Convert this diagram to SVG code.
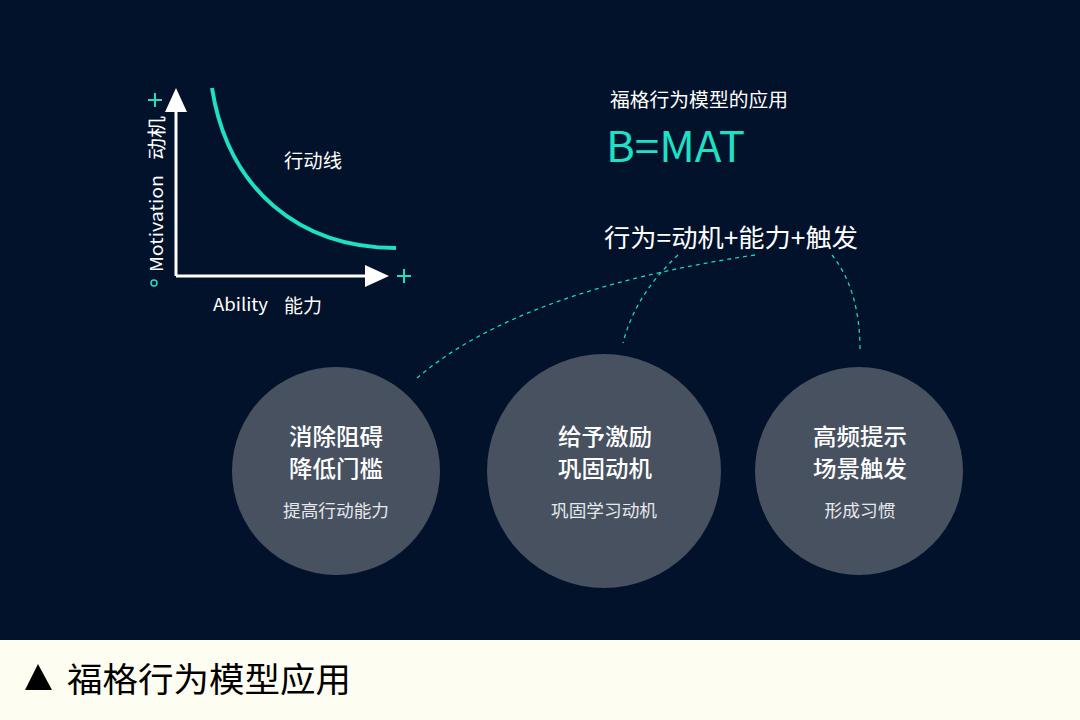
<svg xmlns="http://www.w3.org/2000/svg" width="1080" height="720" viewBox="0 0 1080 720">
<style>
text{font-family:"Noto Sans CJK SC","Noto Sans",sans-serif}
.w{fill:#ffffff}
.t1{font-size:23px;font-weight:500;fill:#ffffff;text-anchor:middle}
.t2{font-size:17px;fill:#e6e8ec;text-anchor:middle}
.c{fill:#475160}
.dash{fill:none;stroke:#19d6bd;stroke-width:1.3;stroke-dasharray:4 4}
.teal{fill:#1de0c4}
</style>
<rect width="1080" height="720" fill="#02122a"/>
<rect y="640" width="1080" height="80" fill="#fefdf2"/>
<g id="chart">
<line x1="176" y1="108" x2="176" y2="276" stroke="#fff" stroke-width="3"/>
<line x1="176" y1="276" x2="368" y2="276" stroke="#fff" stroke-width="3"/>
<polygon points="176,88 165,112 187,112" fill="#fff"/>
<polygon points="389,276 365,265 365,287" fill="#fff"/>
<path d="M212,88 C228,190 300,248 396,248" fill="none" stroke="#1de0c4" stroke-width="4"/>
<path d="M148,100 H162 M155,93 V107" stroke="#1de0c4" stroke-width="2"/>
<path d="M397,276 H411 M404,269 V283" stroke="#1de0c4" stroke-width="2"/>
<circle cx="154" cy="283" r="3" fill="none" stroke="#1de0c4" stroke-width="1.5"/>
<text class="w" font-size="17.5" transform="translate(163,272) rotate(-90)" textLength="97" lengthAdjust="spacingAndGlyphs">Motivation</text>
<text class="w" font-size="19" transform="translate(164,160) rotate(-90)" textLength="44" lengthAdjust="spacingAndGlyphs">动机</text>
<text class="w" font-size="19" x="284" y="168" textLength="58" lengthAdjust="spacingAndGlyphs">行动线</text>
<text class="w" font-size="17.5" x="213" y="311" textLength="55" lengthAdjust="spacingAndGlyphs">Ability</text>
<text class="w" font-size="19" x="284" y="313" textLength="38" lengthAdjust="spacingAndGlyphs">能力</text>
</g>
<g id="formula">
<text class="w" font-size="19" x="610" y="107" textLength="178" lengthAdjust="spacingAndGlyphs">福格行为模型的应用</text>
<text class="teal" font-size="42" x="606" y="162" textLength="139" lengthAdjust="spacingAndGlyphs">B=MAT</text>
<text class="w" font-size="25.5" x="604" y="247" textLength="254" lengthAdjust="spacingAndGlyphs">行为=动机+能力+触发</text>
</g>
<g id="connectors">
<path class="dash" d="M417,378 Q520,290 755,255"/>
<path class="dash" d="M678,255 Q635,295 623,343"/>
<path class="dash" d="M832,255 Q860,290 860,350"/>
</g>
<g id="node1">
<circle class="c" cx="336" cy="471" r="104"/>
<text class="t1" x="336" y="445" textLength="94" lengthAdjust="spacingAndGlyphs">消除阻碍</text>
<text class="t1" x="336" y="477" textLength="94" lengthAdjust="spacingAndGlyphs">降低门槛</text>
<text class="t2" x="336" y="517" textLength="106" lengthAdjust="spacingAndGlyphs">提高行动能力</text>
</g>
<g id="node2">
<circle class="c" cx="604" cy="471" r="117"/>
<text class="t1" x="605" y="445" textLength="94" lengthAdjust="spacingAndGlyphs">给予激励</text>
<text class="t1" x="605" y="477" textLength="94" lengthAdjust="spacingAndGlyphs">巩固动机</text>
<text class="t2" x="604" y="517" textLength="106" lengthAdjust="spacingAndGlyphs">巩固学习动机</text>
</g>
<g id="node3">
<circle class="c" cx="859" cy="471" r="104"/>
<text class="t1" x="860" y="445" textLength="94" lengthAdjust="spacingAndGlyphs">高频提示</text>
<text class="t1" x="860" y="477" textLength="94" lengthAdjust="spacingAndGlyphs">场景触发</text>
<text class="t2" x="860" y="517" textLength="71" lengthAdjust="spacingAndGlyphs">形成习惯</text>
</g>
<g id="caption">
<polygon points="38,664 25,690 52,690" fill="#000"/>
<text x="67" y="692" font-size="34" fill="#000" textLength="284" lengthAdjust="spacingAndGlyphs">福格行为模型应用</text>
</g>
</svg>
